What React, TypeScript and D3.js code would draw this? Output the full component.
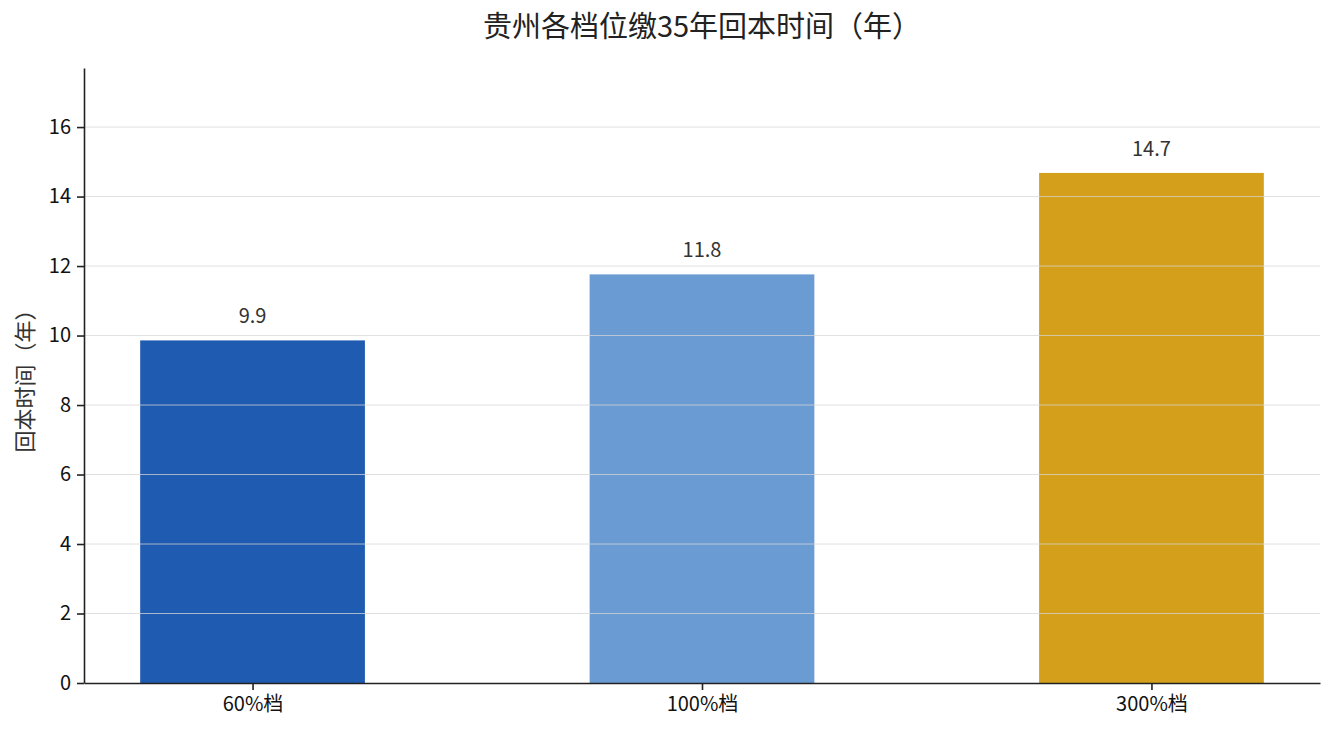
import { useRef, useEffect } from 'react';
import * as d3 from 'd3';

const categories = ['60%档', '100%档', '300%档'];
const paybackYears = [9.86, 11.76, 14.68];
const barColors = ['#1f5bb0', '#6b9bd3', '#d4a01b'];
const yTicks = [0, 2, 4, 6, 8, 10, 12, 14, 16];
const yMax = 17.7;

const titleText = '贵州各档位缴35年回本时间（年）';
const yLabelText = '回本时间（年）';

const FONT = '"Noto Sans CJK SC", "Noto Sans", sans-serif';

export default function App() {
  const svgRef = useRef<SVGSVGElement>(null);

  useEffect(() => {
    if (!svgRef.current) return;
    const svg = d3.select(svgRef.current);
    svg.selectAll('*').remove();

    const width = 1335;
    const height = 735;
    const margin = { top: 68, right: 15, bottom: 52, left: 84 };
    const innerW = width - margin.left - margin.right;
    const innerH = height - margin.top - margin.bottom;

    // matplotlib-style: bars at 0,1,2 width 0.5, 5% margins
    const barW = 0.5;
    const lo = -barW / 2;
    const hi = categories.length - 1 + barW / 2;
    const pad = (hi - lo) * 0.05;
    const x = d3.scaleLinear().domain([lo - pad, hi + pad]).range([0, innerW]);

    const y = d3.scaleLinear().domain([0, yMax]).range([innerH, 0]);

    const g = svg.append('g').attr('transform', `translate(${margin.left},${margin.top})`);

    // bars
    g.selectAll('rect.bar')
      .data(paybackYears)
      .join('rect')
      .attr('class', 'bar')
      .attr('x', (_, i) => x(i - barW / 2))
      .attr('width', (_, i) => x(i + barW / 2) - x(i - barW / 2))
      .attr('y', (d) => y(d))
      .attr('height', (d) => innerH - y(d))
      .attr('fill', (_, i) => barColors[i]);

    // grid on top of bars
    g.append('g')
      .selectAll('line')
      .data(yTicks.slice(1))
      .join('line')
      .attr('x1', 0)
      .attr('x2', innerW)
      .attr('y1', (d) => y(d))
      .attr('y2', (d) => y(d))
      .attr('stroke', '#d6d6d6')
      .attr('stroke-opacity', 0.75)
      .attr('stroke-width', 1);

    // value labels
    g.selectAll('text.val')
      .data(paybackYears)
      .join('text')
      .attr('class', 'val')
      .attr('x', (_, i) => x(i))
      .attr('y', (d) => y(d) - 17)
      .attr('text-anchor', 'middle')
      .attr('font-family', FONT)
      .attr('font-size', 20)
      .attr('fill', '#333333')
      .text((d) => d.toFixed(1));

    // x axis
    const xAxis = g.append('g')
      .attr('transform', `translate(0,${innerH})`)
      .call(
        d3.axisBottom(x)
          .tickValues(categories.map((_, i) => i))
          .tickFormat((d) => categories[d as number])
          .tickSize(7)
          .tickSizeOuter(0)
          .tickPadding(7)
      );
    xAxis.select('.domain').attr('stroke', '#222').attr('stroke-width', 1.6);
    xAxis.selectAll('.tick line').attr('stroke', '#222').attr('stroke-width', 1.6);
    xAxis.selectAll('.tick text')
      .attr('font-family', FONT)
      .attr('font-size', 20)
      .attr('fill', '#111');

    // y axis
    const yAxis = g.append('g')
      .call(d3.axisLeft(y).tickValues(yTicks).tickSize(7).tickPadding(6).tickSizeOuter(0));
    yAxis.select('.domain').attr('stroke', '#222').attr('stroke-width', 1.6);
    yAxis.selectAll('.tick line').attr('stroke', '#222').attr('stroke-width', 1.6);
    yAxis.selectAll('.tick text')
      .attr('font-family', FONT)
      .attr('font-size', 20)
      .attr('fill', '#111');

    // y label
    svg.append('text')
      .attr('transform', `translate(33,${margin.top + innerH / 2}) rotate(-90)`)
      .attr('text-anchor', 'middle')
      .attr('font-family', FONT)
      .attr('font-size', 22)
      .attr('fill', '#333')
      .text(yLabelText);

    // title
    svg.append('text')
      .attr('x', margin.left + innerW / 2)
      .attr('y', 37)
      .attr('text-anchor', 'middle')
      .attr('font-family', FONT)
      .attr('font-size', 29)
      .attr('fill', '#222')
      .text(titleText);
  }, []);

  return (
    <svg
      ref={svgRef}
      width={1335}
      height={735}
      style={{ position: 'absolute', left: 0, top: 0, background: '#fff' }}
    />
  );
}
